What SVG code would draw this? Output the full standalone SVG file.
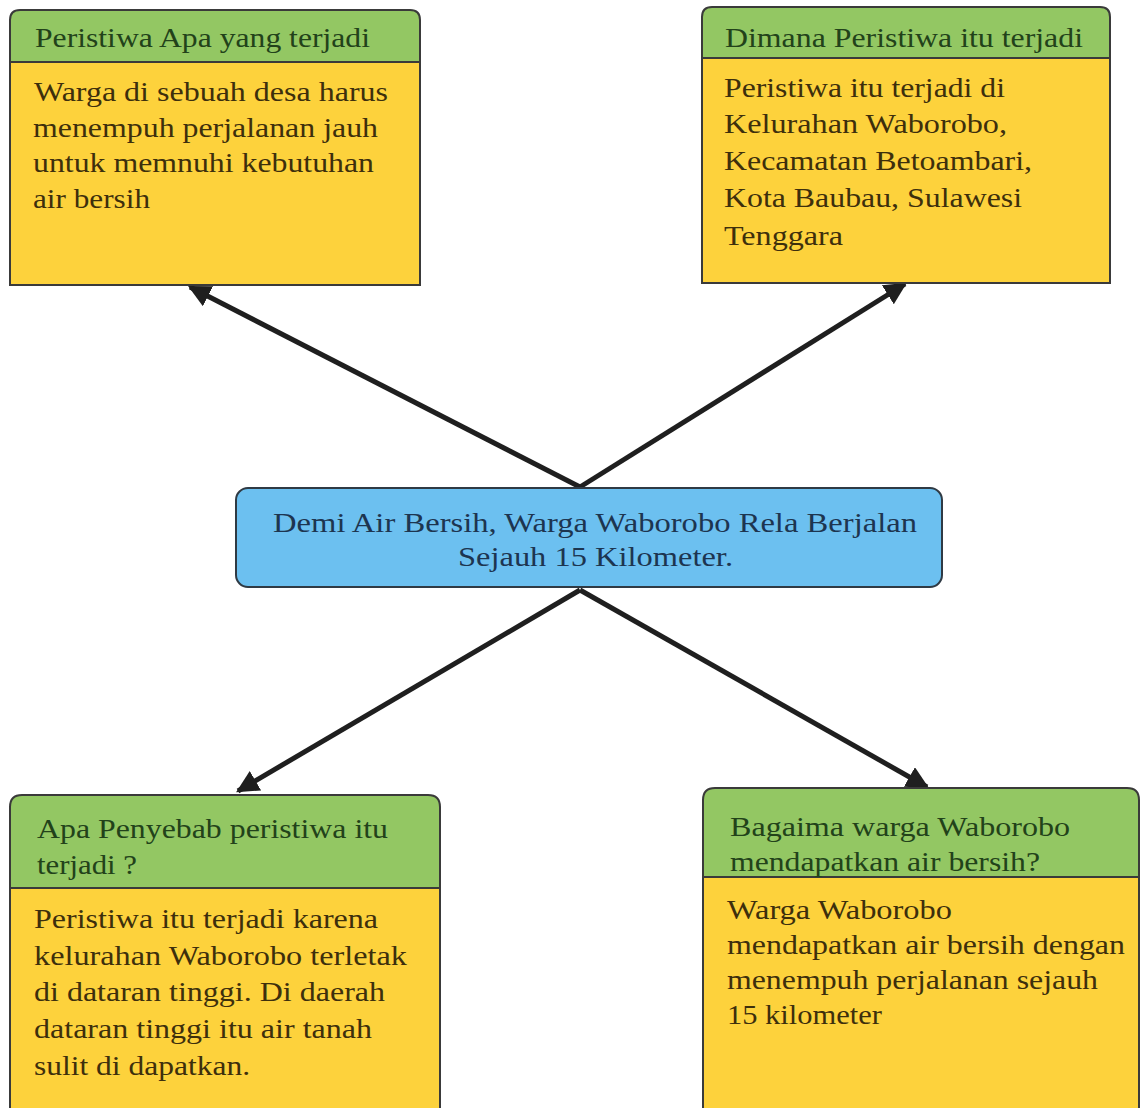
<svg xmlns="http://www.w3.org/2000/svg" width="1141" height="1108" viewBox="0 0 1141 1108" font-family="Liberation Serif, Times New Roman, Times, DejaVu Serif, serif" font-size="28">
<defs>
<style>
.hdr{fill:#93c763;stroke:#3a3a3a;stroke-width:2}
.body{fill:#fdd23c;stroke:#3a3a3a;stroke-width:2}
.ctr{fill:#6cc0f0;stroke:#2f3a44;stroke-width:2}
.ht{fill:#22421a}
.bt{fill:#3d2f0c}
.ct{fill:#1d3550}
.conn{stroke:#1f1f1f;stroke-width:5;fill:none;marker-end:url(#ah)}
</style>
<marker id="ah" viewBox="0 0 10 10" refX="9" refY="5" markerWidth="4.5" markerHeight="4.5" orient="auto" markerUnits="strokeWidth">
<path d="M0,0 L10,5 L0,10 z" fill="#1f1f1f"/>
</marker>
</defs>
<rect width="1141" height="1108" fill="#ffffff"/>
<g id="connectors">
<line class="conn" x1="580" y1="487" x2="190" y2="287"/>
<line class="conn" x1="580" y1="487" x2="905" y2="284"/>
<line class="conn" x1="580" y1="590" x2="238" y2="791"/>
<line class="conn" x1="580" y1="590" x2="927" y2="787"/>
</g>
<g id="node-apa">
<path class="hdr" d="M10,62 V20 Q10,10 20,10 H410 Q420,10 420,20 V62 Z"/>
<rect class="body" x="10" y="62" width="410" height="223"/>
<text class="ht" x="35" y="47" textLength="335" lengthAdjust="spacingAndGlyphs">Peristiwa Apa yang terjadi</text>
<text class="bt" x="34" y="101" textLength="354" lengthAdjust="spacingAndGlyphs">Warga di sebuah desa harus</text>
<text class="bt" x="33" y="137" textLength="345" lengthAdjust="spacingAndGlyphs">menempuh perjalanan jauh</text>
<text class="bt" x="33" y="172" textLength="341" lengthAdjust="spacingAndGlyphs">untuk memnuhi kebutuhan</text>
<text class="bt" x="33" y="208" textLength="117" lengthAdjust="spacingAndGlyphs">air bersih</text>
</g>
<g id="node-dimana">
<path class="hdr" d="M702,58 V17 Q702,7 712,7 H1100 Q1110,7 1110,17 V58 Z"/>
<rect class="body" x="702" y="58" width="408" height="225"/>
<text class="ht" x="725" y="47" textLength="358" lengthAdjust="spacingAndGlyphs">Dimana Peristiwa itu terjadi</text>
<text class="bt" x="724" y="97" textLength="281" lengthAdjust="spacingAndGlyphs">Peristiwa itu terjadi di</text>
<text class="bt" x="724" y="133" textLength="283" lengthAdjust="spacingAndGlyphs">Kelurahan Waborobo,</text>
<text class="bt" x="724" y="170" textLength="308" lengthAdjust="spacingAndGlyphs">Kecamatan Betoambari,</text>
<text class="bt" x="724" y="207" textLength="298" lengthAdjust="spacingAndGlyphs">Kota Baubau, Sulawesi</text>
<text class="bt" x="724" y="245" textLength="119" lengthAdjust="spacingAndGlyphs">Tenggara</text>
</g>
<g id="node-center">
<rect class="ctr" x="236" y="488" width="706" height="99" rx="12"/>
<text class="ct" x="273" y="532" textLength="644" lengthAdjust="spacingAndGlyphs">Demi Air Bersih, Warga Waborobo Rela Berjalan</text>
<text class="ct" x="458" y="566" textLength="275" lengthAdjust="spacingAndGlyphs">Sejauh 15 Kilometer.</text>
</g>
<g id="node-penyebab">
<path class="hdr" d="M10,888 V807 Q10,795 22,795 H428 Q440,795 440,807 V888 Z"/>
<rect class="body" x="10" y="888" width="430" height="230"/>
<text class="ht" x="37" y="838" textLength="351" lengthAdjust="spacingAndGlyphs">Apa Penyebab peristiwa itu</text>
<text class="ht" x="37" y="874" textLength="100" lengthAdjust="spacingAndGlyphs">terjadi ?</text>
<text class="bt" x="34" y="928" textLength="344" lengthAdjust="spacingAndGlyphs">Peristiwa itu terjadi karena</text>
<text class="bt" x="34" y="965" textLength="373" lengthAdjust="spacingAndGlyphs">kelurahan Waborobo terletak</text>
<text class="bt" x="34" y="1001" textLength="351" lengthAdjust="spacingAndGlyphs">di dataran tinggi. Di daerah</text>
<text class="bt" x="34" y="1038" textLength="338" lengthAdjust="spacingAndGlyphs">dataran tinggi itu air tanah</text>
<text class="bt" x="34" y="1075" textLength="216" lengthAdjust="spacingAndGlyphs">sulit di dapatkan.</text>
</g>
<g id="node-bagaimana">
<path class="hdr" d="M703,877 V800 Q703,788 715,788 H1127 Q1139,788 1139,800 V877 Z"/>
<rect class="body" x="703" y="877" width="436" height="240"/>
<text class="ht" x="730" y="836" textLength="340" lengthAdjust="spacingAndGlyphs">Bagaima warga Waborobo</text>
<text class="ht" x="730" y="871" textLength="310" lengthAdjust="spacingAndGlyphs">mendapatkan air bersih?</text>
<text class="bt" x="727" y="919" textLength="225" lengthAdjust="spacingAndGlyphs">Warga Waborobo</text>
<text class="bt" x="727" y="954" textLength="398" lengthAdjust="spacingAndGlyphs">mendapatkan air bersih dengan</text>
<text class="bt" x="727" y="989" textLength="371" lengthAdjust="spacingAndGlyphs">menempuh perjalanan sejauh</text>
<text class="bt" x="727" y="1024" textLength="155" lengthAdjust="spacingAndGlyphs">15 kilometer</text>
</g>
</svg>
